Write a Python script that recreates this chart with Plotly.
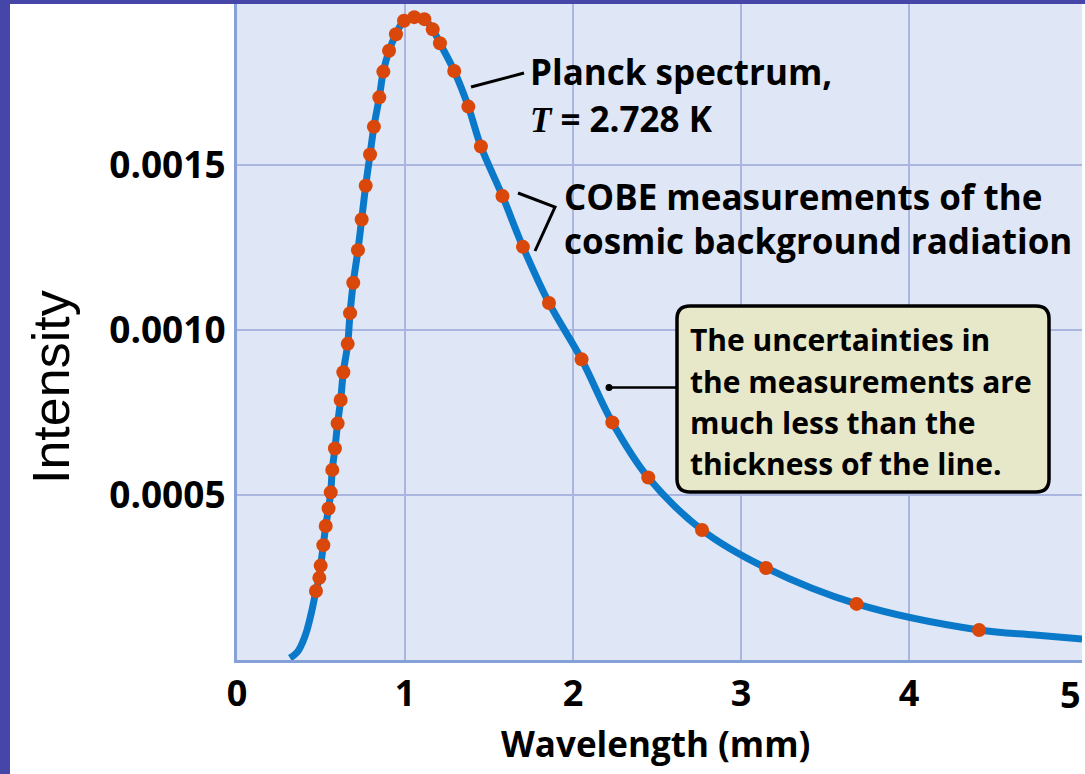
import plotly.graph_objects as go

# ---- data ----
cobe_wavelength_mm = [0.470, 0.490, 0.498, 0.514, 0.528, 0.545, 0.558, 0.567, 0.583, 0.599,
                      0.617, 0.633, 0.659, 0.673, 0.692, 0.720, 0.742, 0.766, 0.792, 0.815,
                      0.847, 0.871, 0.905, 0.946, 0.994, 1.055, 1.115, 1.165, 1.208, 1.293,
                      1.377, 1.452, 1.580, 1.702, 1.857, 2.051, 2.234, 2.448, 2.768, 3.149,
                      3.688, 4.417]
cobe_intensity = [0.000209, 0.000249, 0.000286, 0.000348, 0.000406, 0.000459, 0.000508, 0.000576,
                  0.000641, 0.000717, 0.000788, 0.000872, 0.000958, 0.001051, 0.001143, 0.001242,
                  0.001335, 0.001437, 0.001532, 0.001616, 0.001705, 0.001783, 0.001846, 0.001896,
                  0.001937, 0.001948, 0.001942, 0.001911, 0.001869, 0.001785, 0.001677, 0.001556,
                  0.001406, 0.001252, 0.001082, 0.000911, 0.000720, 0.000553, 0.000394, 0.000279,
                  0.000170, 0.0000909]

planck_start_x = [0.315, 0.340, 0.365, 0.390, 0.415, 0.445]
planck_start_y = [0.0000060, 0.0000150, 0.0000280, 0.0000530, 0.0000880, 0.000148]
planck_tail_x = [4.75, 5.03]
planck_tail_y = [0.0000758, 0.0000636]

x_tickvals = [0, 1, 2, 3, 4, 5]
x_ticktext = ["0", "1", "2", "3", "4", "5"]
y_tickvals = [0.0005, 0.0010, 0.0015]
y_ticktext = ["0.0005", "0.0010", "0.0015"]
x_grid = [1, 2, 3, 4]

planck_x = planck_start_x + cobe_wavelength_mm + planck_tail_x
planck_y = planck_start_y + cobe_intensity + planck_tail_y

# ---- layout helpers (pixel -> paper) ----
W, H = 1085, 774
L, R, T, B = 237, 3, 4, 114
PW, PH = W - L - R, H - T - B


def px(x):
    return (x - L) / PW


def py(y):
    return (H - B - y) / PH


FONT = "Open Sans"
BLUE = "#0b79c9"
DOT = "#d9480a"
GRID = "#aab6df"
AXIS = "#86a0d8"
PURPLE = "#4646a9"

fig = go.Figure()
fig.add_trace(go.Scatter(x=planck_x, y=planck_y, mode="lines",
                         line=dict(color=BLUE, width=7, shape="spline", smoothing=1.0),
                         hoverinfo="skip", showlegend=False))
fig.add_trace(go.Scatter(x=cobe_wavelength_mm, y=cobe_intensity, mode="markers",
                         marker=dict(color=DOT, size=14, line=dict(width=0)),
                         showlegend=False))

shapes = []
for g in x_grid:
    shapes.append(dict(type="line", xref="x", yref="paper", x0=g, x1=g, y0=0, y1=1,
                       line=dict(color=GRID, width=2), layer="below"))

# purple frame strips
shapes.append(dict(type="rect", xref="paper", yref="paper", x0=px(0), x1=px(10),
                   y0=py(H), y1=py(0), fillcolor=PURPLE, line=dict(width=0)))
shapes.append(dict(type="rect", xref="paper", yref="paper", x0=px(0), x1=px(W),
                   y0=py(4), y1=py(0), fillcolor=PURPLE, line=dict(width=0)))

# Planck leader
shapes.append(dict(type="line", xref="paper", yref="paper", x0=px(471), y0=py(87),
                   x1=px(524), y1=py(73), line=dict(color="black", width=3)))
# COBE bracket
shapes.append(dict(type="path", xref="paper", yref="paper",
                   path=f"M {px(518)},{py(193)} L {px(555)},{py(207)} L {px(535)},{py(251)}",
                   line=dict(color="black", width=3)))
# box leader + dot
shapes.append(dict(type="line", xref="paper", yref="paper", x0=px(609), y0=py(387.5),
                   x1=px(677), y1=py(387.5), line=dict(color="black", width=2.5)))
shapes.append(dict(type="circle", xref="paper", yref="paper", x0=px(605.5), x1=px(612.5),
                   y0=py(391), y1=py(384), fillcolor="black", line=dict(width=0)))

# rounded box
bx0, bx1, by0, by1 = px(677), px(1049), py(492), py(306)
rx, ry = 13 / PW, 13 / PH
box_path = (f"M {bx0+rx},{by1} L {bx1-rx},{by1} Q {bx1},{by1} {bx1},{by1-ry} "
            f"L {bx1},{by0+ry} Q {bx1},{by0} {bx1-rx},{by0} L {bx0+rx},{by0} "
            f"Q {bx0},{by0} {bx0},{by0+ry} L {bx0},{by1-ry} Q {bx0},{by1} {bx0+rx},{by1} Z")
shapes.append(dict(type="path", xref="paper", yref="paper", path=box_path,
                   fillcolor="#e7e7ca", line=dict(color="black", width=3.5)))

annotations = []


def label(text, x, y, size, xanchor="left", **kw):
    annotations.append(dict(text=text, x=px(x), y=py(y), xref="paper", yref="paper",
                            xanchor=xanchor, yanchor="middle", showarrow=False,
                            font=dict(family=FONT, size=size, color="black", weight="bold"),
                            **kw))


label("Wavelength (mm)", 655, 744, 35, xanchor="center")
annotations.append(dict(text="Intensity", x=px(51), y=py(387), xref="paper", yref="paper",
                        xanchor="center", yanchor="middle", showarrow=False, textangle=-90,
                        font=dict(family="Liberation Sans", size=52, color="black")))
label("Planck spectrum,", 528, 72, 35)
label('<span style="font-family:\'Liberation Serif\';font-style:italic">T</span> = 2.728 K',
      528, 118, 35)
label("COBE measurements of the", 562, 196, 35)
label("cosmic background radiation", 562, 240, 35)
label("The uncertainties in", 688, 339.5, 30)
label("the measurements are", 688, 381, 30)
label("much less than the", 688, 422.5, 30)
label("thickness of the line.", 688, 463, 30)
# last x tick label sits at the page edge; keep it inside the page
label(x_ticktext[-1], 1083, 694, 36, xanchor="right")

fig.update_layout(
    width=W, height=H, autosize=False,
    margin=dict(l=L, r=R, t=T, b=B, pad=0),
    paper_bgcolor="white", plot_bgcolor="#dfe6f6",
    shapes=shapes, annotations=annotations,
    xaxis=dict(range=[0, PW / 168], tickvals=x_tickvals, ticktext=x_ticktext,
               showgrid=False, zeroline=False, showline=True, linecolor=AXIS, linewidth=3,
               ticks="", ticklabelstandoff=0, ticklabeloverflow="hide past div",
               tickfont=dict(family=FONT, size=36, color="black", weight="bold")),
    yaxis=dict(range=[0, PH / 165 * 0.0005], tickvals=y_tickvals, ticktext=y_ticktext,
               showgrid=True, gridcolor=GRID, gridwidth=2, zeroline=False,
               showline=True, linecolor=AXIS, linewidth=3,
               ticks="", ticklabelstandoff=1,
               tickfont=dict(family=FONT, size=37, color="black", weight="bold")),
    hovermode=False,
)

fig.write_html("out.html")
